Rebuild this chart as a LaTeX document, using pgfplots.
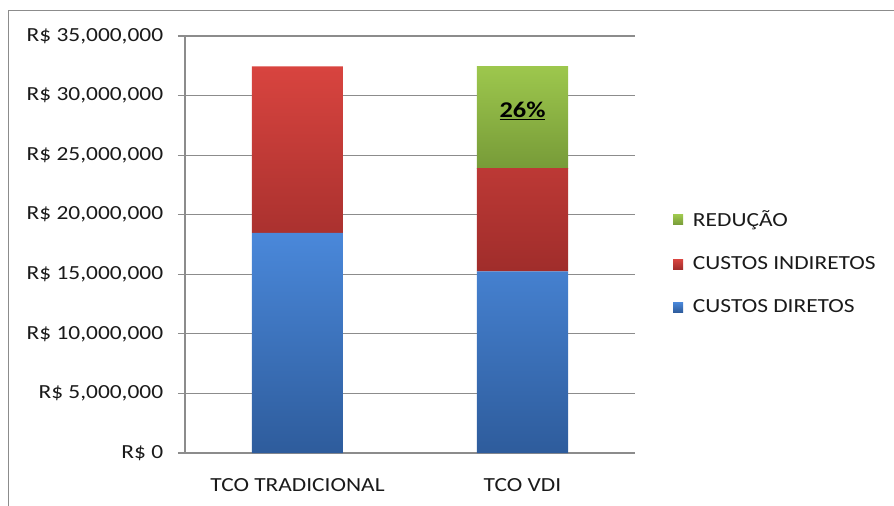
\documentclass[border=0pt]{standalone}
\usepackage{fontspec}
\setmainfont{Carlito}[FakeStretch=1.17]
\usepackage{pgfplots}
\pgfplotsset{compat=1.18}
\definecolor{bluetop}{HTML}{4A88DA}
\definecolor{bluebot}{HTML}{2E5C9C}
\definecolor{redtop}{HTML}{D8443F}
\definecolor{redbot}{HTML}{A02D2B}
\definecolor{greentop}{HTML}{9DC74D}
\definecolor{greenbot}{HTML}{779B38}
\definecolor{gridgray}{HTML}{8C8C8C}
\definecolor{txt}{HTML}{1A1A1A}
\begin{document}
\fontsize{20bp}{24bp}\selectfont
\begin{tikzpicture}
\path[use as bounding box] (-185bp,-53bp) rectangle (709bp,453bp);
\draw[gridgray, line width=1bp] (-176bp,-53bp) -- (-176bp,442bp) -- (709bp,442bp);
\begin{axis}[
  at={(0,0)}, anchor=south west,
  scale only axis, width=450bp, height=417bp,
  ybar stacked, bar width=91bp,
  xmin=-0.5, xmax=1.5, ymin=0, ymax=35000000,
  axis x line*=bottom, axis y line*=left,
  axis line style={gridgray, line width=1.2bp, -},
  xtick={0,1}, xticklabels={TCO TRADICIONAL, TCO VDI},
  xtick style={draw=none},
  extra x ticks={-0.5,0.5,1.5}, extra x tick labels={},
  extra x tick style={major tick length=8bp, tick align=outside, tick style={gridgray, line width=1.2bp}},
  xticklabel style={font=\fontsize{20bp}{24bp}\selectfont, text=txt, yshift=-12bp},
  ytick={0,5000000,10000000,15000000,20000000,25000000,30000000,35000000},
  yticklabels={{R\$ 0},{R\$ 5,000,000},{R\$ 10,000,000},{R\$ 15,000,000},{R\$ 20,000,000},{R\$ 25,000,000},{R\$ 30,000,000},{R\$ 35,000,000}},
  scaled y ticks=false,
  yticklabel style={font=\fontsize{20bp}{24bp}\selectfont, text=txt, xshift=-8bp},
  ytick style={gridgray, line width=1.2bp},
  major tick length=7bp, tick align=outside,
  ymajorgrids, major grid style={gridgray, line width=1.2bp},
  /pgf/number format/assume math mode=true,
  reverse legend,
  legend cell align=left,
  legend style={draw=none, fill=none, at={(1.084,0.456)}, anchor=west,
    font=\fontsize{20bp}{24bp}\selectfont, text=txt, row sep=23bp,
    inner xsep=0pt},
  legend image code/.code={\path[#1, draw=none] (0bp,-5bp) rectangle (10bp,5bp); \path (18bp,0bp);},
]
\addplot[draw=none, top color=bluetop, bottom color=bluebot] coordinates {(0,18480000) (1,15250000)};
\addplot[draw=none, top color=redtop, bottom color=redbot] coordinates {(0,13970000) (1,8650000)};
\addplot[draw=none, top color=greentop, bottom color=greenbot] coordinates {(0,0) (1,8550000)};
\legend{CUSTOS DIRETOS, CUSTOS INDIRETOS, REDUÇÃO}
\coordinate (lab) at (axis cs:1,28700000);
\end{axis}
\node[font=\fontsize{22.5bp}{26bp}\selectfont\bfseries, text=black] at (lab) {\underline{26\%}};
\end{tikzpicture}
\end{document}
